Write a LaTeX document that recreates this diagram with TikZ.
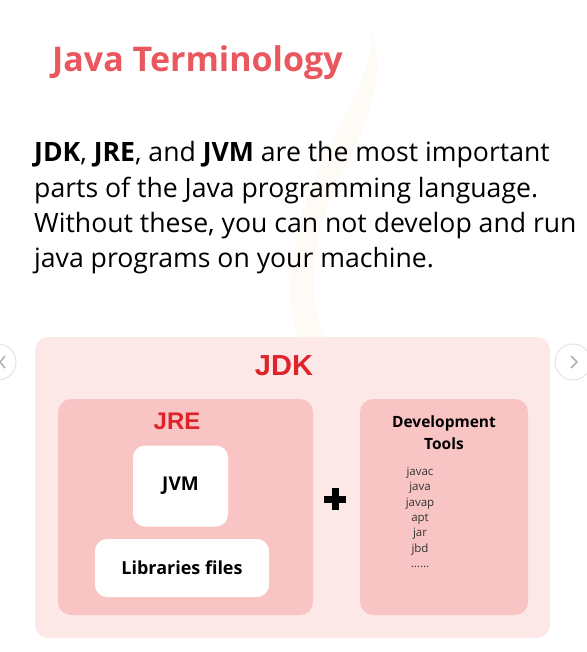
\documentclass[tikz,border=0pt]{standalone}
\usepackage{fontspec}
\setmainfont{Open Sans}
\newfontfamily\headfont{Liberation Sans}
\usetikzlibrary{positioning}

\definecolor{titlered}{RGB}{232,88,94}
\definecolor{jdkred}{RGB}{222,36,42}
\definecolor{outerpink}{RGB}{253,232,232}
\definecolor{innerpink}{RGB}{249,196,196}
\definecolor{steam}{RGB}{254,250,245}
\definecolor{navgray}{RGB}{228,228,228}

\tikzset{
  panel/.style={rounded corners=13pt, inner sep=0pt},
  whitebox/.style={fill=white, rounded corners=12pt, inner sep=0pt, font=\bfseries\fontsize{19}{22}\selectfont},
  bodyline/.style={anchor=base west, inner sep=0pt, font=\fontsize{26.6}{30}\selectfont},
}

\begin{document}
\begin{tikzpicture}[x=1pt,y=1pt,yscale=-1,xscale=1]
\useasboundingbox (0,0) rectangle (586,652);

%Steam watermark
\fill [steam] (372,32) .. controls (395,110) and (330,170) .. (318,240) .. controls (306,300) and (322,330) .. (330,345) -- (300,345) .. controls (282,300) and (292,230) .. (318,170) .. controls (345,110) and (370,80) .. (372,32) -- cycle ;

% Text Node
\node [anchor=base west, inner sep=0pt, text=titlered, font=\bfseries\fontsize{34}{38}\selectfont] (title) at (52,72) {Java Terminology};
% Text Node
\node [bodyline] (line1) at (34,162) {\textbf{JDK}, \textbf{JRE}, and \textbf{JVM} are the most important};
\node [bodyline] (line2) at (34,197) {parts of the Java programming language.};
\node [bodyline] (line3) at (34,232) {Without these, you can not develop and run};
\node [bodyline] (line4) at (34,267) {java programs on your machine.};

%Carousel buttons
\draw [navgray, fill=white, line width=1pt] (-2,362) circle (18) ;
\draw [black!30, line width=1.6pt] (5,356) -- (0,362) -- (5,368) ;
\draw [navgray, fill=white, line width=1pt] (573,362) circle (18) ;
\draw [black!30, line width=1.6pt] (571,356) -- (577,362) -- (571,368) ;

%Shape: Rounded Rect (JDK)
\node [panel, fill=outerpink, minimum width=515pt, minimum height=301pt] (jdk) at (292.5,487.5) {};
\node [panel, fill=innerpink, minimum width=255pt, minimum height=216pt] (jre) at (185.5,507) {};
\node [panel, fill=innerpink, minimum width=168pt, minimum height=216pt] (devtools) at (444,507) {};
\node [whitebox, minimum width=95pt, minimum height=81pt] (jvm) at (180.5,486) {JVM};
\node [whitebox, minimum width=174pt, minimum height=58pt, font=\bfseries\fontsize{18}{22}\selectfont] (libs) at (182,568) {Libraries files};

% Text Node
\node [inner sep=0pt, text=jdkred, font=\headfont\bfseries\fontsize{29}{32}\selectfont] (jdklabel) at (284,366) {JDK};
\node [inner sep=0pt, text=jdkred, font=\headfont\bfseries\fontsize{24}{28}\selectfont] (jrelabel) at (177,421) {JRE};
\node [inner sep=0pt, align=center, font=\bfseries\fontsize{15.5}{22}\selectfont] (devlabel) at (444,433) {Development\\Tools};
\node [anchor=north, inner sep=0pt, align=center, text=black!80, font=\fontsize{11.5}{15.3}\selectfont] (toollist) at (420,467) {javac\\java\\javap\\apt\\jar\\jbd\\......};

%Plus sign
\coordinate (plus) at (335,499);
\draw [line width=7pt] ([xshift=-11pt]plus) -- ([xshift=11pt]plus) ;
\draw [line width=7pt] ([yshift=-11pt]plus) -- ([yshift=11pt]plus) ;

\end{tikzpicture}
\end{document}
